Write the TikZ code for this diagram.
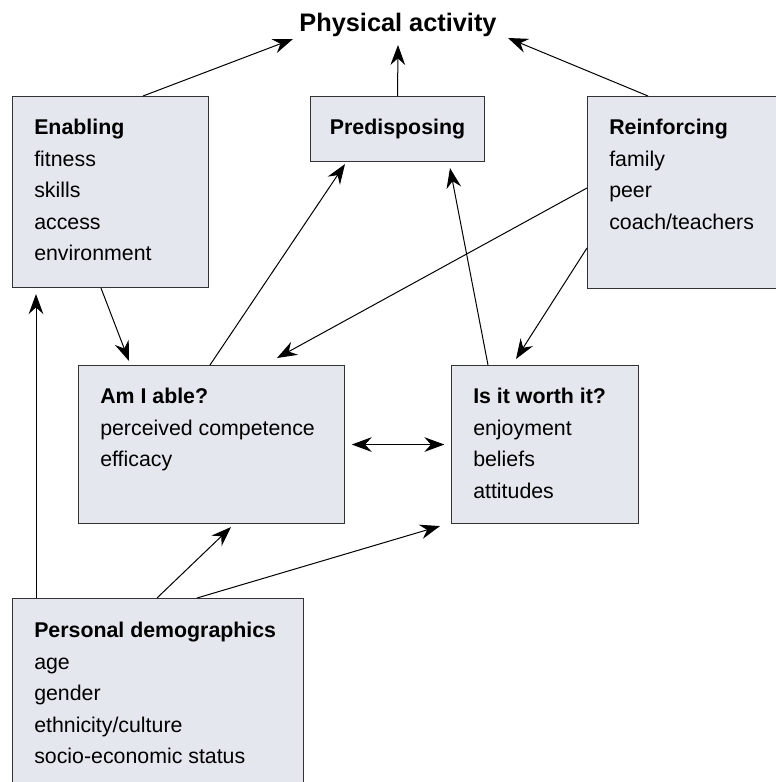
\documentclass[tikz,border=0pt]{standalone}
\usepackage{fontspec}
\setmainfont{Liberation Sans}
\usetikzlibrary{arrows.meta,calc}
\definecolor{boxfill}{RGB}{228,231,238}

\tikzset{
  box/.style={draw=black!80, line width=0.8pt, fill=boxfill, anchor=north west, inner sep=0pt},
  txt/.style={anchor=north west, inner sep=0pt, align=left, font=\fontsize{16}{23.6}\selectfont},
  link/.style={->, line width=0.75pt},
  >={Stealth[length=15pt,width=11pt,inset=5pt]}
}

\begin{document}
\begin{tikzpicture}[x=0.75pt,y=-0.75pt]
\useasboundingbox (0,0) rectangle (775,782);

% Outcome
\node[inner sep=0pt, font=\fontsize{19}{22}\selectfont\bfseries] (act) at (398,25) {Physical activity};

% Factor boxes
\node[box, minimum width=147pt, minimum height=143.25pt] (enab) at (12,96) {};
\node[box, minimum width=130.5pt, minimum height=48.75pt, font=\fontsize{16}{23.6}\selectfont\bfseries] (pred) at (310,96) {Predisposing};
\node[box, minimum width=160pt, minimum height=144pt] (reinf) at (587,96) {};

% Questions
\node[box, minimum width=199.5pt, minimum height=118.5pt] (able) at (78,365) {};
\node[box, minimum width=140.25pt, minimum height=118.5pt] (worth) at (451,365) {};

% Demographics
\node[box, minimum width=218.25pt, minimum height=170pt] (pers) at (12,598) {};

% Box texts
\node[txt] (enabtxt) at (34,119) {\textbf{Enabling}\\fitness\\skills\\access\\environment};
\node[txt] (reinftxt) at (609,119) {\textbf{Reinforcing}\\family\\peer\\coach/teachers};
\node[txt] (abletxt) at (100,388) {\textbf{Am I able?}\\perceived competence\\efficacy};
\node[txt] (worthtxt) at (473,388) {\textbf{Is it worth it?}\\enjoyment\\beliefs\\attitudes};
\node[txt] (perstxt) at (34,622) {\textbf{Personal demographics}\\age\\gender\\ethnicity/culture\\socio-economic status};

% Into physical activity
\draw[link] ($(enab.north west)+(131,0)$) -- ($(act.center)+(-105,14)$);
\draw[link] (pred.north) -- ($(act.center)+(0,20)$);
\draw[link] ($(reinf.north west)+(61,0)$) -- ($(act.center)+(110,13)$);

% Between the boxes
\draw[link] ($(enab.south west)+(89,0)$) -- ($(able.north west)+(51,-4)$);
\draw[link] ($(able.north west)+(132,0)$) -- ($(pred.south west)+(35,2)$);
\draw[link] ($(reinf.north west)+(0,92)$) -- ($(able.north west)+(199,-7)$);
\draw[link] ($(reinf.north west)+(0,152)$) -- ($(worth.north west)+(65,-6)$);
\draw[link] ($(worth.north west)+(37,0)$) -- ($(pred.south west)+(140,6)$);
\draw[<->, line width=0.75pt, shorten <=5pt, shorten >=5pt] (able.east) -- (worth.west);

% From demographics
\draw[link] ($(pers.north west)+(24,0)$) -- ($(enab.south west)+(24,6)$);
\draw[link] ($(pers.north west)+(145,0)$) -- ($(able.south west)+(153,3)$);
\draw[link] ($(pers.north west)+(185,0)$) -- ($(worth.south west)+(-11,2)$);

\end{tikzpicture}
\end{document}
